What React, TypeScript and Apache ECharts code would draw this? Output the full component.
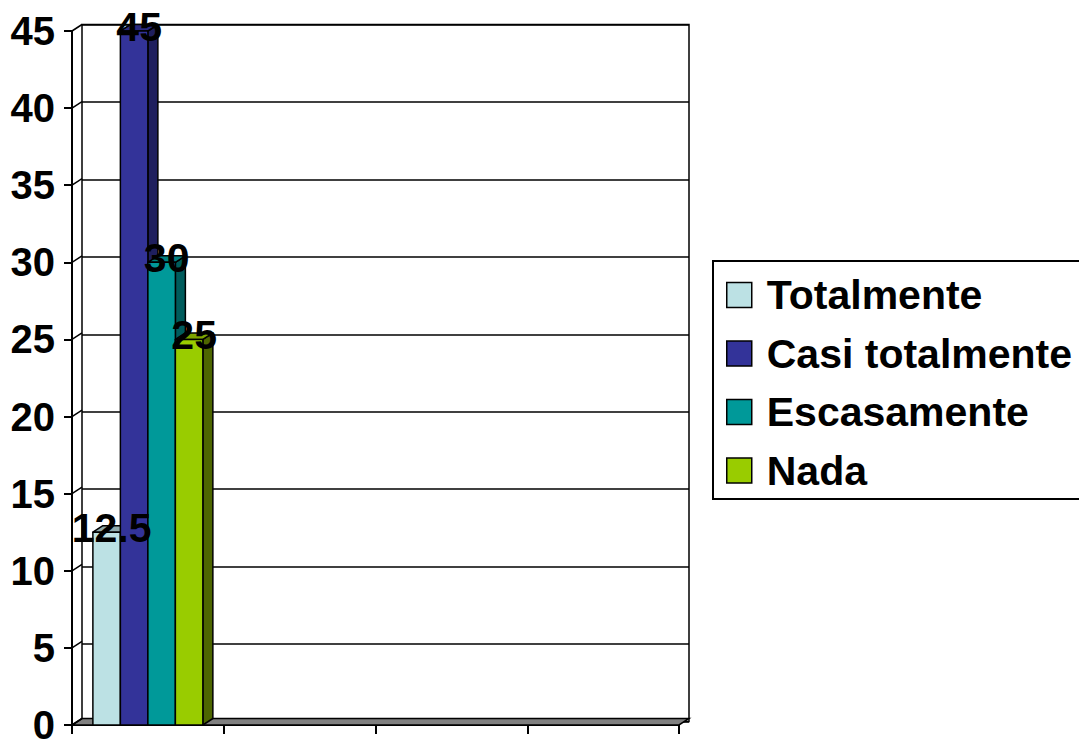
import React, { useEffect, useRef } from "react";
import * as echarts from "echarts";

const categories = ["1", "2", "3", "4"];
const seriesNames = ["Totalmente", "Casi totalmente", "Escasamente", "Nada"];
const totalmente = [12.5];
const casiTotalmente = [45];
const escasamente = [30];
const nada = [25];
const yTicks = [0, 5, 10, 15, 20, 25, 30, 35, 40, 45];

const frontColors = ["#BCE1E4", "#333399", "#009999", "#99CC00"];
const sideColors = ["#7E9A9C", "#1F1F5E", "#005C5C", "#4D6600"];
const topColors = ["#8FABAE", "#2A2A80", "#007F7F", "#7FA300"];

const FONT = '"Liberation Sans", Arial, Helvetica, sans-serif';
const DX = 10;
const DY = -6.5;

export default function App() {
  const ref = useRef<HTMLDivElement>(null);

  useEffect(() => {
    if (!ref.current) return;
    const chart = echarts.init(ref.current, null, { renderer: "svg" });
    const allValues = [totalmente, casiTotalmente, escasamente, nada];

    const barSeries = seriesNames.map((name, i) => ({
      name,
      type: "custom",
      xAxisIndex: 0,
      yAxisIndex: 0,
      z: 3,
      itemStyle: { color: frontColors[i] },
      data: allValues[i].map((v, ci) => [ci, v]),
      renderItem: (params: any, api: any) => {
        const c = api.value(0);
        const v = api.value(1);
        const band = api.size([1, 0])[0];
        const base = api.coord([c, 0]);
        const top = api.coord([c, v]);
        const bw = band * 0.1812;
        const xl = base[0] - 2 * bw + i * bw;
        const xr = xl + bw;
        const y0 = base[1];
        const yt = top[1];
        const stroke = { stroke: "#000", lineWidth: 1.5, lineJoin: "round" };
        return {
          type: "group",
          children: [
            {
              type: "polygon",
              shape: { points: [[xr, y0], [xr + DX, y0 + DY], [xr + DX, yt + DY], [xr, yt]] },
              style: { fill: sideColors[i], ...stroke },
            },
            {
              type: "polygon",
              shape: { points: [[xl, yt], [xr, yt], [xr + DX, yt + DY], [xl + DX, yt + DY]] },
              style: { fill: topColors[i], ...stroke },
            },
            {
              type: "polygon",
              shape: { points: [[xl, y0], [xr, y0], [xr, yt], [xl, yt]] },
              style: { fill: frontColors[i], ...stroke },
            },
            {
              type: "text",
              x: (xl + xr) / 2 + 5,
              y: yt - 4,
              z2: 100,
              style: {
                text: String(v),
                fill: "#000",
                font: `bold 41px ${FONT}`,
                textAlign: "center",
                textVerticalAlign: "middle",
              },
            },
          ],
        };
      },
    }));

    const decor = {
      name: "__decor",
      type: "custom",
      xAxisIndex: 0,
      yAxisIndex: 0,
      z: 1,
      silent: true,
      data: [[0, 0]],
      renderItem: (params: any, api: any) => {
        const cs = params.coordSys;
        const y0 = api.coord([0, 0])[1];
        const children: any[] = [
          {
            type: "polygon",
            shape: {
              points: [
                [cs.x, y0],
                [cs.x + cs.width, y0],
                [cs.x + cs.width + DX, y0 + DY],
                [cs.x + DX, y0 + DY],
              ],
            },
            style: { fill: "#808080", stroke: "#000", lineWidth: 1.5 },
          },
        ];
        yTicks.forEach((t) => {
          const y = api.coord([0, t])[1];
          children.push({
            type: "line",
            shape: { x1: cs.x, y1: y, x2: cs.x + DX, y2: y + DY },
            style: { stroke: "#000", lineWidth: 1.5 },
          });
        });
        return { type: "group", children };
      },
    };

    chart.setOption({
      animation: false,
      backgroundColor: "#fff",
      textStyle: { fontFamily: FONT },
      grid: [
        { left: 72, top: 31, width: 607, height: 697 },
        {
          left: 82,
          top: 24.5,
          width: 607,
          height: 697,
          show: true,
          borderColor: "#000",
          borderWidth: 1.5,
          backgroundColor: "#fff",
        },
      ],
      xAxis: [
        {
          type: "category",
          gridIndex: 0,
          data: categories,
          boundaryGap: true,
          axisLine: { show: true, lineStyle: { color: "#000", width: 2 } },
          axisTick: { show: true, length: 9, lineStyle: { color: "#000", width: 2 } },
          axisLabel: { show: false },
          splitLine: { show: false },
        },
        {
          type: "category",
          gridIndex: 1,
          data: categories,
          show: false,
        },
      ],
      yAxis: [
        {
          type: "value",
          gridIndex: 0,
          min: 0,
          max: 45,
          interval: 5,
          axisLine: { show: true, lineStyle: { color: "#000", width: 2 } },
          axisTick: { show: true, length: 8, lineStyle: { color: "#000", width: 2 } },
          axisLabel: {
            show: true,
            margin: 17,
            color: "#000",
            fontSize: 40,
            fontWeight: "bold",
            fontFamily: FONT,
          },
          splitLine: { show: false },
        },
        {
          type: "value",
          gridIndex: 1,
          min: 0,
          max: 45,
          interval: 5,
          axisLine: { show: false },
          axisTick: { show: false },
          axisLabel: { show: false },
          splitLine: { show: true, lineStyle: { color: "#000", width: 1.5 } },
        },
      ],
      legend: {
        orient: "vertical",
        left: 713,
        top: 261,
        data: seriesNames,
        icon: "rect",
        itemWidth: 25,
        itemHeight: 25,
        itemGap: 14.5,
        padding: [12, 30, 6.5, 13],
        borderColor: "#000",
        borderWidth: 2,
        backgroundColor: "#fff",
        itemStyle: { borderColor: "#000", borderWidth: 1.5 },
        textStyle: {
          color: "#000",
          fontSize: 41,
          fontWeight: "bold",
          fontFamily: FONT,
          lineHeight: 44,
          padding: [0, 0, 0, 10],
        },
        selectedMode: false,
      },
      series: [decor, ...barSeries],
    });

    return () => chart.dispose();
  }, []);

  return (
    <div
      ref={ref}
      style={{ position: "fixed", left: 0, top: 0, width: 1079, height: 745 }}
    />
  );
}
